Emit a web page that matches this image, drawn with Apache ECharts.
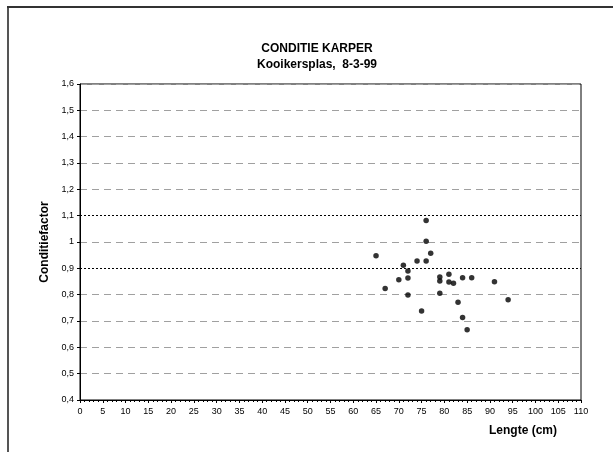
<!DOCTYPE html>
<html><head><meta charset="utf-8">
<script src="https://cdn.jsdelivr.net/npm/echarts@6/dist/echarts.min.js"></script>
<style>html,body{margin:0;padding:0;background:#fff}#c{width:613px;height:452px}</style>
</head><body><div id="c"></div>
<script>
const lengths = [76, 76, 65, 77, 74, 76, 71, 72, 70, 72, 79, 79, 81, 81, 82, 84, 86, 91, 67, 72, 79, 83, 94, 75, 84, 85];
const factors = [1.082, 1.003, 0.948, 0.957, 0.928, 0.928, 0.912, 0.890, 0.857, 0.863, 0.867, 0.852, 0.878, 0.848, 0.843, 0.864, 0.864, 0.849, 0.823, 0.799, 0.805, 0.771, 0.781, 0.738, 0.713, 0.667];
const limitLines = [0.9, 1.1];
const titleText = 'CONDITIE KARPER';
const subtitleText = 'Kooikersplas,  8-3-99';

const chart = echarts.init(document.getElementById('c'));
const font = 'Liberation Sans, Arial, sans-serif';
const gridColors = [];
for (let i = 0; i <= 12; i++) {
  const v = +(0.4 + i * 0.1).toFixed(1);
  gridColors.push(limitLines.includes(v) ? 'rgba(0,0,0,0)' : '#a0a0a0');
}
chart.setOption({
  animation: false,
  title: {
    text: titleText, subtext: subtitleText, left: 312, top: 37, textAlign: 'center',
    itemGap: 2,
    textStyle: {fontFamily: font, fontSize: 12, fontWeight: 'bold', color: '#000', lineHeight: 14},
    subtextStyle: {fontFamily: font, fontSize: 12, fontWeight: 'bold', color: '#000', lineHeight: 14}
  },
  graphic: [
    {type: 'line', shape: {x1: 8, y1: 7, x2: 8, y2: 452}, style: {stroke: '#555', lineWidth: 2}},
    {type: 'line', shape: {x1: 7, y1: 7, x2: 613, y2: 7}, style: {stroke: '#333', lineWidth: 2}}
  ],
  grid: {left: 80, top: 84, width: 501, height: 316, show: true, borderColor: '#000', borderWidth: 1, backgroundColor: 'transparent'},
  xAxis: {
    type: 'value', min: 0, max: 110, interval: 5,
    name: 'Lengte (cm)', nameLocation: 'end', nameGap: 0,
    nameTextStyle: {fontFamily: font, fontSize: 12, fontWeight: 'bold', color: '#000', align: 'right', verticalAlign: 'top', padding: [25, 24, 0, 0]},
    axisLine: {lineStyle: {color: '#000', width: 1}},
    axisTick: {show: true, inside: false, length: 3, lineStyle: {color: '#000'}},
    minorTick: {show: true, splitNumber: 5, length: 2, lineStyle: {color: '#000'}},
    axisLabel: {fontFamily: font, fontSize: 9, color: '#000', margin: 7},
    splitLine: {show: false}
  },
  yAxis: {
    type: 'value', min: 0.4, max: 1.6, interval: 0.1,
    name: 'Conditiefactor', nameLocation: 'middle', nameGap: 29, nameRotate: 90,
    nameTextStyle: {fontFamily: font, fontSize: 12, fontWeight: 'bold', color: '#000'},
    axisLine: {lineStyle: {color: '#000', width: 1}},
    axisTick: {show: true, length: 3, lineStyle: {color: '#000'}},
    axisLabel: {fontFamily: font, fontSize: 9, color: '#000', margin: 6,
      formatter: v => { const r = Math.round(v * 10) / 10; return String(r).replace('.', ','); }},
    splitLine: {show: true, lineStyle: {color: gridColors, type: [7, 5], width: 1}}
  },
  series: [{
    type: 'scatter', symbol: 'circle', symbolSize: 5.5,
    itemStyle: {color: '#000'},
    data: lengths.map((x, i) => [x, factors[i]]),
    markLine: {
      silent: true, symbol: 'none', label: {show: false},
      lineStyle: {color: '#000', type: [2, 2], width: 1},
      data: limitLines.map(v => ({yAxis: v}))
    }
  }]
});
</script></body></html>
